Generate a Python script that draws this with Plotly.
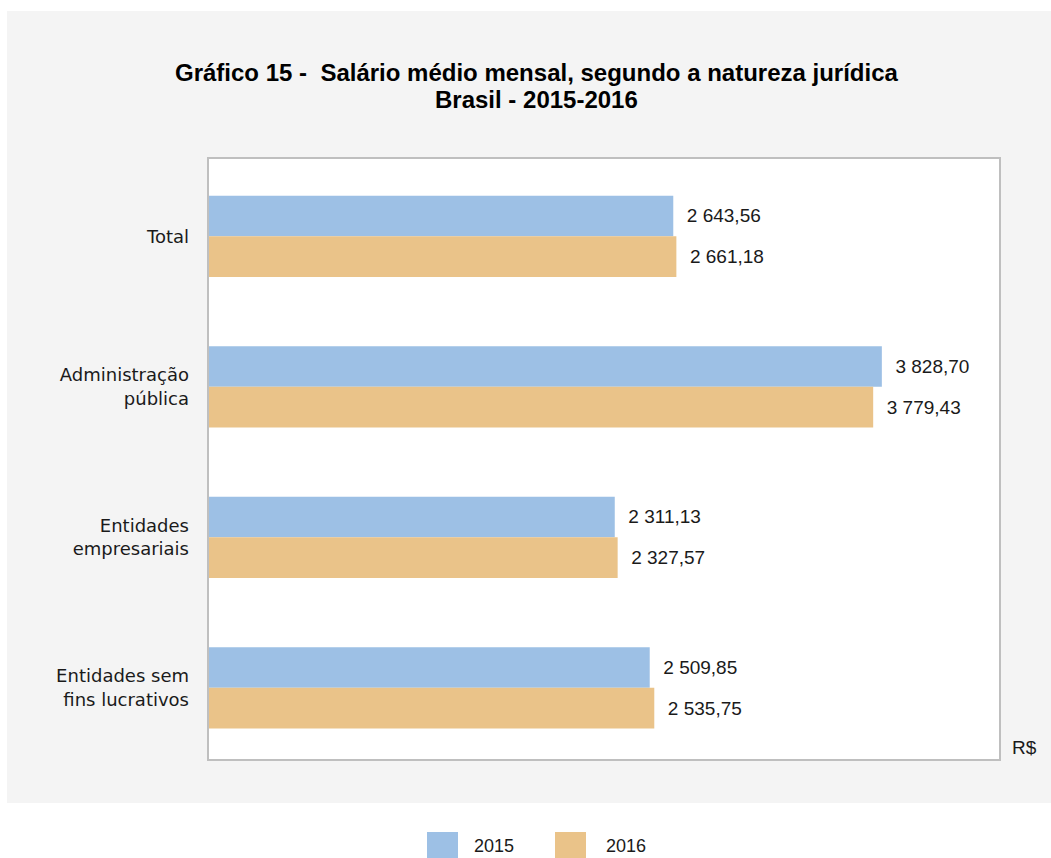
import plotly.graph_objects as go

categories = ["Total", "Administração<br>pública", "Entidades<br>empresariais", "Entidades sem<br>fins lucrativos"]
years = ["2015", "2016"]
values_2015 = [2643.56, 3828.70, 2311.13, 2509.85]
values_2016 = [2661.18, 3779.43, 2327.57, 2535.75]
colors = ["#9DC0E5", "#EAC389"]
title_lines = ["Gráfico 15 -  Salário médio mensal, segundo a natureza jurídica", "Brasil - 2015-2016"]

FONT = "Liberation Sans, Arial, sans-serif"
TICKFONT = "DejaVu Sans, Liberation Sans, sans-serif"

def fmt(v):
    s = f"{v:,.2f}"
    return s.replace(",", " ").replace(".", ",")

W, H = 1051, 858
L, R, T, B = 208, 1000, 158, 760
pw, ph = R - L, B - T

def px(x):
    return (x - L) / pw

def py(y):
    return (B - y) / ph

fig = go.Figure()
for yr, vals, col in zip(years, [values_2015, values_2016], colors):
    fig.add_trace(go.Bar(
        y=categories, x=vals, orientation="h", name=yr,
        marker=dict(color=col, line=dict(width=0)),
        text=["  " + fmt(v) for v in vals], textposition="outside",
        textfont=dict(size=19, color="#1a1a1a", family=FONT),
        cliponaxis=False, showlegend=False,
    ))

shapes = [
    dict(type="rect", xref="paper", yref="paper", x0=px(7), x1=px(1051), y0=py(803), y1=py(11),
         fillcolor="#F4F4F4", line=dict(width=0), layer="below"),
    dict(type="rect", xref="paper", yref="paper", x0=0, x1=1, y0=0, y1=1,
         fillcolor="white", line=dict(width=0), layer="below"),
    dict(type="rect", xref="paper", yref="paper", x0=0, x1=1, y0=0, y1=1,
         fillcolor="rgba(0,0,0,0)", line=dict(width=2, color="#BFBFBF"), layer="above"),
]
annotations = []
for line, yy in zip(title_lines, [72, 100]):
    annotations.append(dict(text="<b>" + line + "</b>", xref="paper", yref="paper", x=px(536.5), y=py(yy),
                            xanchor="center", yanchor="middle", showarrow=False,
                            font=dict(size=24, color="#000000", family=FONT)))
annotations.append(dict(text="R$", xref="paper", yref="paper", x=px(1010), y=py(747), xanchor="left",
                        yanchor="middle", showarrow=False, font=dict(size=19, color="#1a1a1a", family=FONT)))
# manual legend
leg = [(427, 472), (555, 604)]
for (sx, tx), yr, col in zip(leg, years, colors):
    shapes.append(dict(type="rect", xref="paper", yref="paper", x0=px(sx), x1=px(sx + 31),
                       y0=py(858), y1=py(832), fillcolor=col, line=dict(width=0)))
    annotations.append(dict(text=yr, xref="paper", yref="paper", x=px(tx), y=py(846),
                            xanchor="left", yanchor="middle", showarrow=False,
                            font=dict(size=18, color="#1a1a1a", family=FONT)))

fig.update_layout(
    width=W, height=H,
    margin=dict(l=L, r=W - R, t=T, b=H - B, pad=0),
    paper_bgcolor="white", plot_bgcolor="white",
    barmode="group", bargap=0.46, bargroupgap=0,
    shapes=shapes, annotations=annotations,
    xaxis=dict(range=[0, 4500], showticklabels=False, showgrid=False, zeroline=False, showline=False, ticks=""),
    yaxis=dict(range=[3.48, -0.52], showgrid=False, zeroline=False, showline=False, ticks="",
               ticklabelstandoff=18,
               tickfont=dict(size=18, color="#1a1a1a", family=TICKFONT)),
    font=dict(family=FONT),
)
fig.write_html("out.html")
